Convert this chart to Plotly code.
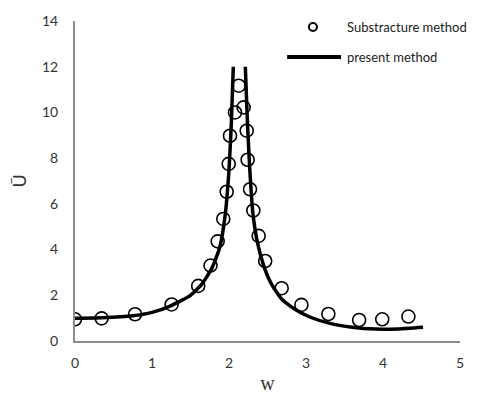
import plotly.graph_objects as go

# Substructure method (markers)
sub_w = [0.0, 0.346, 0.78, 1.255, 1.60, 1.76, 1.853, 1.926, 1.97, 1.996, 2.013, 2.078, 2.126,
         2.19, 2.23, 2.242, 2.273, 2.316, 2.385, 2.47, 2.684, 2.94, 3.29, 3.69, 3.99, 4.33]
sub_u = [0.95, 0.99, 1.17, 1.60, 2.41, 3.30, 4.36, 5.34, 6.53, 7.75, 8.98, 10.0, 11.17,
         10.22, 9.20, 7.93, 6.64, 5.71, 4.60, 3.50, 2.31, 1.58, 1.18, 0.92, 0.95, 1.07]

# Present method (line) – left and right branches of the resonance curve
left_w = [0.0, 0.35, 0.75, 1.0, 1.25, 1.5, 1.65, 1.78, 1.88, 1.95, 2.0, 2.03, 2.056]
left_u = [1.0, 1.02, 1.1, 1.25, 1.55, 2.0, 2.5, 3.2, 4.1, 5.5, 7.5, 9.5, 12.0]
right_w = [2.212, 2.24, 2.27, 2.31, 2.37, 2.45, 2.55, 2.68, 2.85, 3.05, 3.3, 3.6, 3.9, 4.2, 4.52]
right_u = [12.0, 9.5, 7.5, 5.6, 4.3, 3.3, 2.5, 1.85, 1.4, 1.05, 0.78, 0.6, 0.52, 0.53, 0.6]

x_ticks = [0, 1, 2, 3, 4, 5]
y_ticks = [0, 2, 4, 6, 8, 10, 12, 14]
legend_labels = ["Substracture method", "present method"]

fig = go.Figure()
fig.add_trace(go.Scatter(
    x=sub_w, y=sub_u, mode="markers", name=legend_labels[0],
    marker=dict(symbol="circle-open", size=13, color="black", line=dict(width=1.6, color="black")),
))
fig.add_trace(go.Scatter(
    x=left_w + [None] + right_w, y=left_u + [None] + right_u,
    mode="lines", name=legend_labels[1],
    line=dict(color="black", width=3.5, shape="spline", smoothing=0.5),
    connectgaps=False,
))

# Legend drawn by hand (symbol shapes + text annotations) in paper coordinates
fig.add_shape(type="circle", xref="paper", yref="paper", xsizemode="pixel", ysizemode="pixel",
              xanchor=0.618, yanchor=0.981, x0=-4, x1=4, y0=-4, y1=4,
              line=dict(color="black", width=2))
fig.add_shape(type="line", xref="paper", yref="paper",
              x0=0.551, x1=0.691, y0=0.8875, y1=0.8875, line=dict(color="black", width=4))
fig.add_annotation(text=legend_labels[0], xref="paper", yref="paper", x=0.70, y=0.981,
                   xanchor="left", yanchor="middle", showarrow=False,
                   font=dict(family="Lato", size=13, color="#222"))
fig.add_annotation(text=legend_labels[1], xref="paper", yref="paper", x=0.70, y=0.8875,
                   xanchor="left", yanchor="middle", showarrow=False,
                   font=dict(family="Lato", size=13, color="#222"))

axis_common = dict(showgrid=False, zeroline=False, showline=True, linecolor="#8c8c8c",
                   linewidth=2, ticks="outside", tickcolor="rgba(0,0,0,0)",
                   automargin=False, mirror=False,
                   tickfont=dict(family="Lato", size=14, color="#333"))
fig.update_layout(
    width=476, height=386,
    margin=dict(l=67, r=24, t=13, b=53),
    paper_bgcolor="white", plot_bgcolor="white",
    showlegend=False,
    xaxis=dict(range=[0, 5], tickvals=x_ticks, ticklen=8, **axis_common,
               title=dict(text="w", font=dict(family="Liberation Serif", size=20, color="#333"), standoff=10)),
    yaxis=dict(range=[0, 14], tickvals=y_ticks, ticklen=12, **axis_common,
               title=dict(text="Ū", font=dict(family="Lato", size=18, color="#333"), standoff=27)),
)
fig.write_html("out.html")
